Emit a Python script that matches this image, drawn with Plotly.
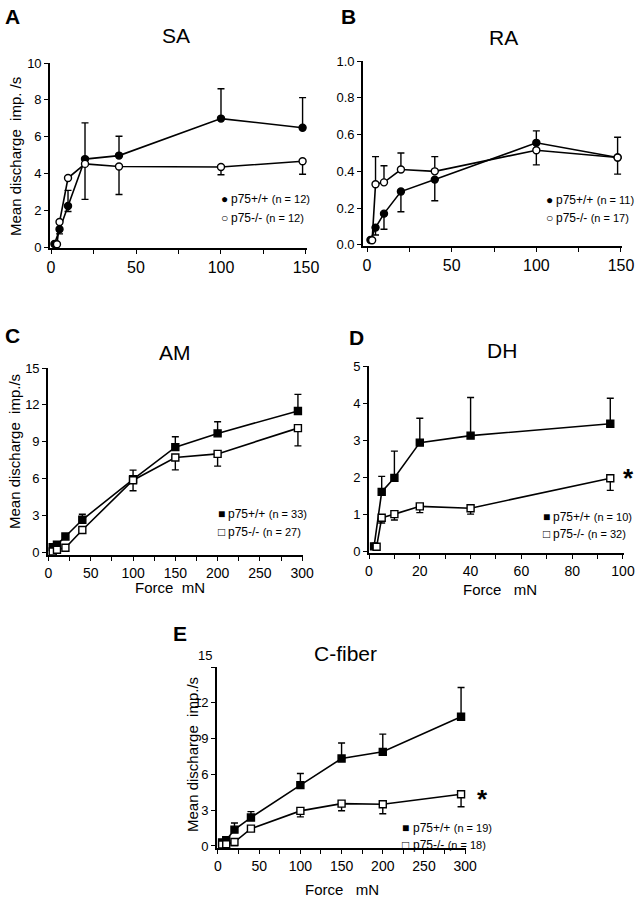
import plotly.graph_objects as go

W, H = 639, 899
FONT = "Liberation Sans, Arial, sans-serif"

# ---------------- data ----------------
# Panel A: SA
sa_wt_x = [2, 5, 10, 20, 40, 100, 148]
sa_wt_y = [0.17, 0.97, 2.23, 4.78, 4.97, 6.98, 6.48]
sa_wt_up = [0, 0, 0.85, 1.97, 1.05, 1.62, 1.64]
sa_wt_dn = [0, 0.25, 0.3, 0, 0, 0, 0]
sa_ko_x = [3.5, 5, 10, 20, 40, 100, 148]
sa_ko_y = [0.15, 1.36, 3.75, 4.52, 4.38, 4.35, 4.66]
sa_ko_up = [0, 0, 0, 0, 0, 0, 0]
sa_ko_dn = [0, 0, 0, 1.93, 1.52, 0.42, 0.7]

# Panel B: RA
ra_wt_x = [2, 5, 10, 20, 40, 100, 148]
ra_wt_y = [0.027, 0.094, 0.17, 0.29, 0.355, 0.555, 0.475]
ra_wt_up = [0, 0, 0, 0, 0, 0.065, 0]
ra_wt_dn = [0, 0.04, 0.085, 0.11, 0.115, 0, 0.09]
ra_ko_x = [3, 5, 10, 20, 40, 100, 148]
ra_ko_y = [0.025, 0.33, 0.34, 0.41, 0.40, 0.515, 0.475]
ra_ko_up = [0, 0.15, 0.09, 0.09, 0.08, 0, 0.11]
ra_ko_dn = [0, 0, 0, 0, 0, 0.08, 0]

# Panel C: AM
am_x = [5, 10, 20, 40, 100, 150, 200, 295]
am_wt_y = [0.4, 0.6, 1.27, 2.63, 5.93, 8.55, 9.67, 11.5]
am_wt_up = [0, 0, 0.2, 0.45, 0.75, 0.85, 0.95, 1.35]
am_ko_y = [0.05, 0.19, 0.35, 1.8, 5.85, 7.7, 8.0, 10.1]
am_ko_dn = [0, 0, 0, 0.2, 0.85, 1.0, 1.0, 1.45]

# Panel D: DH
dh_wt_x = [2, 5, 10, 20, 40, 95]
dh_wt_y = [0.13, 1.6, 1.98, 2.93, 3.12, 3.44]
dh_wt_up = [0, 0.42, 0.72, 0.66, 1.03, 0.69]
dh_ko_x = [3, 5, 10, 20, 40, 95]
dh_ko_y = [0.12, 0.9, 1.0, 1.21, 1.16, 1.97]
dh_ko_dn = [0, 0.14, 0.16, 0.17, 0.16, 0.33]

# Panel E: C-fiber
cf_x = [5, 10, 20, 40, 100, 150, 200, 295]
cf_wt_y = [0.3, 0.48, 1.37, 2.38, 5.1, 7.33, 7.89, 10.83]
cf_wt_up = [0, 0, 0.56, 0.5, 0.97, 1.3, 1.48, 2.45]
cf_ko_y = [0.12, 0.15, 0.33, 1.45, 2.94, 3.55, 3.5, 4.34]
cf_ko_dn = [0, 0, 0.3, 0, 0.5, 0.6, 0.8, 1.05]

titles = ["SA", "RA", "AM", "DH", "C-fiber"]
letters = ["A", "B", "C", "D", "E"]
legend_wt = ["p75+/+"] * 5
legend_ko = ["p75-/-"] * 5
n_wt = [12, 11, 33, 10, 19]
n_ko = [12, 17, 27, 32, 18]

# ---------------- helpers ----------------
def px(x):
    return x / W

def py(y):
    return 1 - y / H

fig = go.Figure()

def add_series(ax, x, y, up, dn, symbol, fill):
    fig.add_trace(go.Scatter(
        x=x, y=y, mode="lines+markers",
        xaxis="x" + ax, yaxis="y" + ax,
        line=dict(color="black", width=1.6),
        marker=dict(symbol=symbol, size=7,
                    color=fill, line=dict(color="black", width=1.4)),
        error_y=dict(type="data", symmetric=False, array=up, arrayminus=dn,
                     color="black", thickness=1.4, width=3.5),
        showlegend=False, hoverinfo="skip"))

# panel geometry (pixels)
panels = {
    "":  dict(x0=50, x1=307, yt=63, yb=248, xr=[-0.6, 150.6], yr=[-0.05, 10], xf=16),
    "2": dict(x0=363, x1=622, yt=61, yb=246, xr=[-2.4, 150.6], yr=[-0.006, 1.0], xf=16),
    "3": dict(x0=48, x1=303, yt=368, yb=555, xr=[-0.6, 301], yr=[-0.24, 15], xf=14),
    "4": dict(x0=369, x1=624, yt=366, yb=553, xr=[0, 100.4], yr=[-0.05, 5], xf=14),
    "5": dict(x0=217, x1=466, yt=667, yb=848, xr=[-1.2, 301], yr=[-0.17, 15], xf=14),
}

add_series("", sa_wt_x, sa_wt_y, sa_wt_up, sa_wt_dn, "circle", "black")
add_series("", sa_ko_x, sa_ko_y, sa_ko_up, sa_ko_dn, "circle", "white")
add_series("2", ra_wt_x, ra_wt_y, ra_wt_up, ra_wt_dn, "circle", "black")
add_series("2", ra_ko_x, ra_ko_y, ra_ko_up, ra_ko_dn, "circle", "white")
add_series("3", am_x, am_wt_y, am_wt_up, [0] * len(am_x), "square", "black")
add_series("3", am_x, am_ko_y, [0] * len(am_x), am_ko_dn, "square", "white")
add_series("4", dh_wt_x, dh_wt_y, dh_wt_up, [0] * len(dh_wt_x), "square", "black")
add_series("4", dh_ko_x, dh_ko_y, [0] * len(dh_ko_x), dh_ko_dn, "square", "white")
add_series("5", cf_x, cf_wt_y, cf_wt_up, [0] * len(cf_x), "square", "black")
add_series("5", cf_x, cf_ko_y, [0] * len(cf_x), cf_ko_dn, "square", "white")

xt150 = [0, 25, 50, 75, 100, 125, 150]
xt300 = [0, 25, 50, 75, 100, 125, 150, 175, 200, 225, 250, 275, 300]
xt100 = [0, 10, 20, 30, 40, 50, 60, 70, 80, 90, 100]
xticks = {
    "":  dict(tickvals=xt150, ticktext=["0", "", "50", "", "100", "", "150"]),
    "2": dict(tickvals=xt150, ticktext=["0", "", "50", "", "100", "", "150"]),
    "3": dict(tickvals=xt300, ticktext=["0", "", "50", "", "100", "", "150", "", "200", "", "250", "", "300"]),
    "4": dict(tickvals=xt100, ticktext=["0", "", "20", "", "40", "", "60", "", "80", "", "100"]),
    "5": dict(tickvals=xt300, ticktext=["0", "", "50", "", "100", "", "150", "", "200", "", "250", "", "300"]),
}
yticks = {
    "":  dict(tickvals=[0, 2, 4, 6, 8, 10], ticktext=["0", "2", "4", "6", "8", "10"]),
    "2": dict(tickvals=[0, 0.2, 0.4, 0.6, 0.8, 1.0], ticktext=["0.0", "0.2", "0.4", "0.6", "0.8", "1.0"]),
    "3": dict(tickvals=[0, 3, 6, 9, 12, 15], ticktext=["0", "3", "6", "9", "12", "15"]),
    "4": dict(tickvals=[0, 1, 2, 3, 4, 5], ticktext=["0", "1", "2", "3", "4", "5"]),
    "5": dict(tickvals=[0, 3, 6, 9, 12, 15], ticktext=["0", "3", "6", "9", "12", ""]),
}

layout_axes = {}
for k, p in panels.items():
    common = dict(showline=True, linecolor="black", linewidth=1.6, ticks="outside",
                  ticklen=4, tickwidth=1.3, tickcolor="black", showgrid=False,
                  zeroline=False, fixedrange=True, automargin=False)
    layout_axes["xaxis" + k] = dict(domain=[px(p["x0"]), px(p["x1"])], range=p["xr"],
                                    anchor="y" + k,
                                    tickfont=dict(family=FONT, size=p["xf"], color="black"),
                                    **common, **xticks[k])
    layout_axes["yaxis" + k] = dict(domain=[py(p["yb"]), py(p["yt"])], range=p["yr"],
                                    anchor="x" + k,
                                    tickfont=dict(family=FONT, size=13, color="black"),
                                    **common, **yticks[k])

fig.update_layout(**layout_axes)

ann = []

def text(x, y, s, size, bold=False, xanchor="center", angle=0):
    ann.append(dict(x=px(x), y=py(y), xref="paper", yref="paper",
                    text=("<b>" + s + "</b>") if bold else s,
                    showarrow=False, xanchor=xanchor, yanchor="middle",
                    textangle=angle, borderpad=0,
                    font=dict(family=FONT, size=size, color="black")))

# panel letters
text(12, 16, letters[0], 21, bold=True)
text(348, 16, letters[1], 21, bold=True)
text(12, 336, letters[2], 21, bold=True)
text(356, 337, letters[3], 21, bold=True)
text(180, 633, letters[4], 21, bold=True)

# titles
text(176, 36, titles[0], 21)
text(503, 38, titles[1], 21)
text(175, 352, titles[2], 21)
text(502, 350, titles[3], 21)
text(345, 653, titles[4], 21)

# axis titles
ytitle = "Mean discharge  imp./s"
text(15, 157, "Mean discharge  imp. /s", 15, angle=-90)
text(15, 452, ytitle, 15, angle=-90)
text(192, 755, ytitle, 15, angle=-90)
text(170, 587, "Force  mN", 15)
text(500, 589, "Force   mN", 15)
text(342, 889, "Force   mN", 15)

# E top tick label (drawn above the axis end, as in the original)
text(213, 655, "15", 13, xanchor="right")

# significance stars
text(628, 478, "*", 26, bold=True)
text(482, 799, "*", 26, bold=True)

# legends: glyph centre x, text start x, line 1 y, line 2 y
legpos = [(224, 230, 199, 218, "●", "○"), (549, 555, 200, 218, "●", "○"),
          (221, 227, 514, 532, "■", "□"), (546, 552, 517, 534, "■", "□"),
          (406, 412, 828, 845, "■", "□")]
for i, (gx, tx, l1, l2, s1, s2) in enumerate(legpos):
    text(gx, l1, s1, 12)
    text(gx, l2, s2, 12)
    text(tx, l1, f"{legend_wt[i]} <span style='font-size:11px'>(n = {n_wt[i]})</span>",
         12, xanchor="left")
    text(tx, l2, f"{legend_ko[i]} <span style='font-size:11px'>(n = {n_ko[i]})</span>",
         12, xanchor="left")

fig.update_layout(
    template="none",
    annotations=ann,
    width=W, height=H,
    margin=dict(l=0, r=0, t=0, b=0, pad=0, autoexpand=False),
    paper_bgcolor="white", plot_bgcolor="white",
    showlegend=False,
    font=dict(family=FONT, color="black"),
)

fig.write_html("out.html", config={"displayModeBar": False},
               post_script="document.body.style.margin='0';document.body.style.padding='0';")
